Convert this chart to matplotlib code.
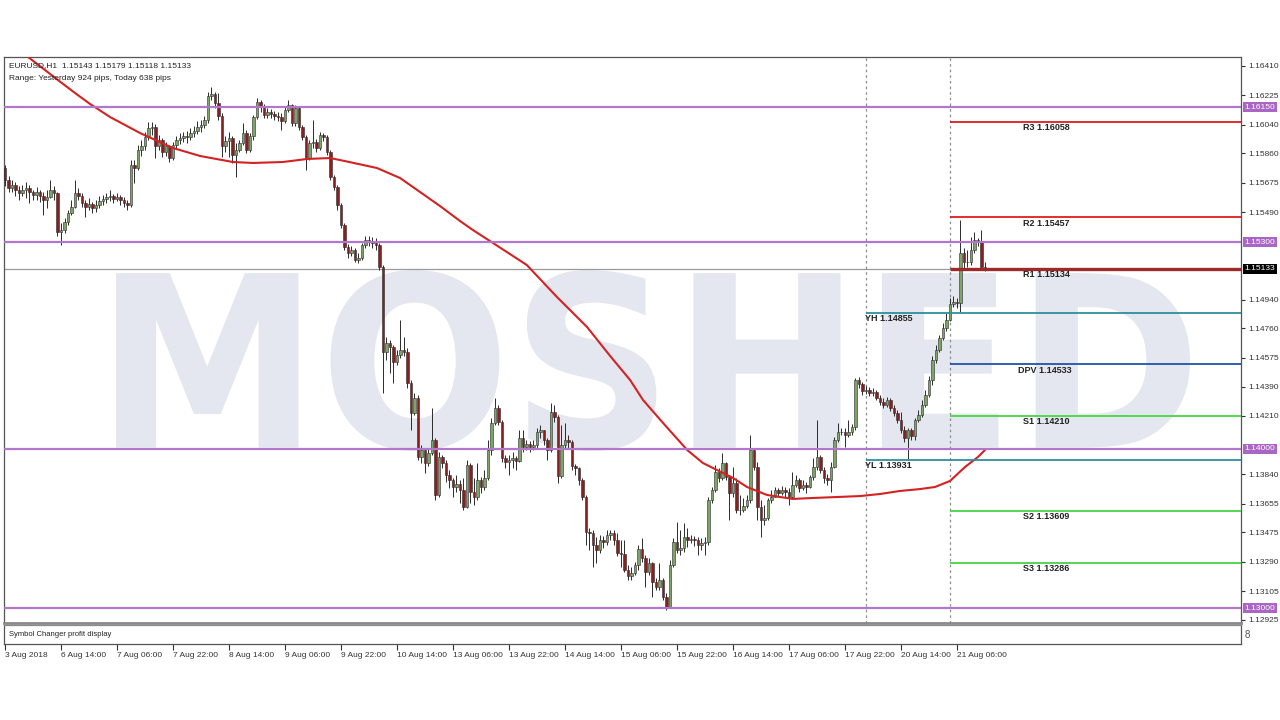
import numpy as np
import matplotlib
matplotlib.use("Agg")
import matplotlib.pyplot as plt
from matplotlib.textpath import TextPath
from matplotlib.patches import PathPatch
from matplotlib.font_manager import FontProperties
from matplotlib.transforms import Affine2D

plt.rcParams['font.family'] = ['Liberation Sans', 'DejaVu Sans']

# EURUSD H1, 3 Aug 22:00 .. 21 Aug 14:00 (one bar per hour)
first_open = 1.15768
closes = [
    1.15692, 1.15642, 1.15661, 1.15629, 1.15610, 1.15629, 1.15642, 1.15616, 1.15598, 1.15616,
    1.15591, 1.15566, 1.15585, 1.15629, 1.15610, 1.15365, 1.15378, 1.15427, 1.15484, 1.15522,
    1.15610, 1.15591, 1.15547, 1.15522, 1.15541, 1.15516, 1.15535, 1.15560, 1.15572, 1.15585,
    1.15591, 1.15572, 1.15585, 1.15566, 1.15547, 1.15535, 1.15787, 1.15768, 1.15881, 1.15906,
    1.15962, 1.16019, 1.16025, 1.15906, 1.15944, 1.15868, 1.15906, 1.15830, 1.15912, 1.15944,
    1.15956, 1.15969, 1.15962, 1.15987, 1.16000, 1.16025, 1.16038, 1.16069, 1.16220, 1.16233,
    1.16176, 1.16094, 1.15906, 1.15937, 1.15956, 1.15849, 1.15881, 1.15925, 1.15987, 1.15881,
    1.15969, 1.16088, 1.16182, 1.16151, 1.16101, 1.16120, 1.16107, 1.16094, 1.16088, 1.16063,
    1.16132, 1.16164, 1.16050, 1.16145, 1.16025, 1.15962, 1.15830, 1.15925, 1.15931, 1.15893,
    1.15975, 1.15962, 1.15868, 1.15711, 1.15648, 1.15535, 1.15409, 1.15271, 1.15233, 1.15252,
    1.15189, 1.15201, 1.15284, 1.15315, 1.15302, 1.15296, 1.15284, 1.15145, 1.14610, 1.14667,
    1.14642, 1.14547, 1.14591, 1.14623, 1.14610, 1.14415, 1.14226, 1.14320, 1.13950, 1.13994,
    1.13912, 1.13975, 1.14057, 1.13711, 1.13950, 1.13912, 1.13836, 1.13805, 1.13761, 1.13780,
    1.13742, 1.13635, 1.13899, 1.13729, 1.13698, 1.13805, 1.13761, 1.13817, 1.13994, 1.14164,
    1.14258, 1.14170, 1.13943, 1.13918, 1.13931, 1.13943, 1.13924, 1.14069, 1.14013, 1.14032,
    1.14013, 1.14025, 1.14107, 1.14120, 1.14057, 1.13994, 1.14233, 1.14201, 1.13830, 1.14025,
    1.14057, 1.14044, 1.13893, 1.13880, 1.13805, 1.13698, 1.13478, 1.13472, 1.13396, 1.13365,
    1.13428, 1.13415, 1.13459, 1.13472, 1.13428, 1.13346, 1.13340, 1.13239, 1.13201, 1.13220,
    1.13270, 1.13371, 1.13315, 1.13226, 1.13283, 1.13163, 1.13132, 1.13176, 1.13069, 1.13006,
    1.13270, 1.13415, 1.13365, 1.13378, 1.13447, 1.13428, 1.13434, 1.13428, 1.13396, 1.13409,
    1.13415, 1.13679, 1.13742, 1.13855, 1.13817, 1.13912, 1.13824, 1.13723, 1.13786, 1.13616,
    1.13616, 1.13641, 1.13679, 1.13994, 1.13887, 1.13635, 1.13553, 1.13566, 1.13679, 1.13698,
    1.13742, 1.13723, 1.13742, 1.13729, 1.13698, 1.13773, 1.13805, 1.13755, 1.13773, 1.13761,
    1.13824, 1.13887, 1.13950, 1.13868, 1.13817, 1.13805, 1.13887, 1.14057, 1.14107, 1.14107,
    1.14088, 1.14107, 1.14138, 1.14434, 1.14409, 1.14365, 1.14371, 1.14352, 1.14359, 1.14321,
    1.14296, 1.14277, 1.14308, 1.14258, 1.14226, 1.14182, 1.14120, 1.14069, 1.14120, 1.14082,
    1.14182, 1.14214, 1.14277, 1.14340, 1.14434, 1.14560, 1.14623, 1.14698, 1.14760, 1.14813,
    1.14912, 1.14924, 1.14918, 1.15233, 1.15176, 1.15176, 1.15252, 1.15315, 1.15302, 1.15143,
    1.15133,
]
highs = [
    1.15787, 1.15717, 1.15692, 1.15679, 1.15654, 1.15661, 1.15679, 1.15661, 1.15629, 1.15648,
    1.15629, 1.15616, 1.15629, 1.15692, 1.15654, 1.15616, 1.15421, 1.15453, 1.15503, 1.15566,
    1.15692, 1.15642, 1.15610, 1.15566, 1.15578, 1.15553, 1.15566, 1.15591, 1.15598, 1.15610,
    1.15629, 1.15604, 1.15610, 1.15598, 1.15585, 1.15566, 1.15818, 1.15818, 1.15912, 1.15944,
    1.15994, 1.16057, 1.16057, 1.16044, 1.15975, 1.15956, 1.15931, 1.15912, 1.15931, 1.15969,
    1.15987, 1.15994, 1.16000, 1.16019, 1.16031, 1.16063, 1.16069, 1.16094, 1.16245, 1.16277,
    1.16245, 1.16239, 1.16113, 1.15969, 1.15994, 1.15969, 1.15925, 1.15944, 1.16050, 1.16006,
    1.15987, 1.16101, 1.16208, 1.16195, 1.16170, 1.16145, 1.16139, 1.16126, 1.16120, 1.16113,
    1.16151, 1.16195, 1.16170, 1.16164, 1.16157, 1.16038, 1.15975, 1.15944, 1.16069, 1.15950,
    1.15994, 1.15987, 1.15975, 1.15881, 1.15724, 1.15661, 1.15547, 1.15421, 1.15290, 1.15277,
    1.15264, 1.15233, 1.15296, 1.15340, 1.15340, 1.15334, 1.15327, 1.15296, 1.15157, 1.14705,
    1.14686, 1.14654, 1.14623, 1.14811, 1.14705, 1.14635, 1.14434, 1.14352, 1.14340, 1.14025,
    1.14006, 1.14006, 1.14258, 1.14069, 1.13981, 1.13962, 1.13931, 1.13868, 1.13817, 1.13836,
    1.13805, 1.13817, 1.13931, 1.13912, 1.13817, 1.13912, 1.13824, 1.13868, 1.14057, 1.14195,
    1.14321, 1.14277, 1.14182, 1.13962, 1.13962, 1.13981, 1.13956, 1.14120, 1.14120, 1.14057,
    1.14050, 1.14057, 1.14132, 1.14151, 1.14120, 1.14069, 1.14289, 1.14277, 1.14214, 1.14151,
    1.14164, 1.14088, 1.14057, 1.13906, 1.13887, 1.13817, 1.13711, 1.13503, 1.13491, 1.13447,
    1.13459, 1.13453, 1.13491, 1.13491, 1.13491, 1.13472, 1.13428, 1.13428, 1.13270, 1.13258,
    1.13289, 1.13396, 1.13440, 1.13333, 1.13315, 1.13289, 1.13189, 1.13283, 1.13189, 1.13094,
    1.13302, 1.13440, 1.13541, 1.13491, 1.13535, 1.13503, 1.13459, 1.13453, 1.13447, 1.13440,
    1.13447, 1.13698, 1.13761, 1.13899, 1.13880, 1.13975, 1.13918, 1.13836, 1.13887, 1.13817,
    1.13711, 1.13692, 1.13711, 1.14088, 1.14006, 1.13918, 1.13679, 1.13648, 1.13692, 1.13742,
    1.13761, 1.13755, 1.13767, 1.13761, 1.13755, 1.13855, 1.13836, 1.13817, 1.13805, 1.13792,
    1.13836, 1.13943, 1.14182, 1.13962, 1.13887, 1.13843, 1.13918, 1.14075, 1.14164, 1.14132,
    1.14132, 1.14182, 1.14157, 1.14447, 1.14453, 1.14421, 1.14396, 1.14390, 1.14384, 1.14371,
    1.14340, 1.14321, 1.14327, 1.14321, 1.14277, 1.14245, 1.14233, 1.14145, 1.14132, 1.14132,
    1.14195, 1.14245, 1.14308, 1.14371, 1.14459, 1.14585, 1.14654, 1.14717, 1.14790, 1.14855,
    1.14950, 1.14962, 1.14950, 1.15440, 1.15264, 1.15252, 1.15334, 1.15365, 1.15327, 1.15378,
    1.15179,
]
lows = [
    1.15654, 1.15616, 1.15616, 1.15591, 1.15566, 1.15591, 1.15578, 1.15547, 1.15566, 1.15566,
    1.15553, 1.15472, 1.15516, 1.15578, 1.15566, 1.15340, 1.15284, 1.15359, 1.15409, 1.15472,
    1.15516, 1.15566, 1.15522, 1.15459, 1.15503, 1.15484, 1.15490, 1.15516, 1.15535, 1.15547,
    1.15560, 1.15547, 1.15560, 1.15535, 1.15522, 1.15503, 1.15522, 1.15673, 1.15755, 1.15843,
    1.15881, 1.15944, 1.15975, 1.15830, 1.15881, 1.15837, 1.15843, 1.15805, 1.15818, 1.15893,
    1.15918, 1.15931, 1.15925, 1.15944, 1.15962, 1.15981, 1.15994, 1.16019, 1.16050, 1.16195,
    1.16145, 1.16069, 1.15837, 1.15868, 1.15837, 1.15799, 1.15711, 1.15868, 1.15912, 1.15862,
    1.15868, 1.15944, 1.16076, 1.16120, 1.16082, 1.16082, 1.16082, 1.16069, 1.16063, 1.16006,
    1.16050, 1.16120, 1.16031, 1.16031, 1.16006, 1.15944, 1.15755, 1.15818, 1.15893, 1.15868,
    1.15881, 1.15937, 1.15849, 1.15692, 1.15629, 1.15503, 1.15390, 1.15252, 1.15201, 1.15214,
    1.15176, 1.15170, 1.15189, 1.15264, 1.15277, 1.15264, 1.15252, 1.15126, 1.14352, 1.14560,
    1.14478, 1.14415, 1.14528, 1.14572, 1.14585, 1.14384, 1.14120, 1.14214, 1.13931, 1.13912,
    1.13849, 1.13893, 1.13962, 1.13679, 1.13698, 1.13880, 1.13792, 1.13755, 1.13698, 1.13729,
    1.13660, 1.13616, 1.13629, 1.13660, 1.13648, 1.13679, 1.13723, 1.13742, 1.13805, 1.13962,
    1.14151, 1.14151, 1.13918, 1.13880, 1.13836, 1.13880, 1.13868, 1.13918, 1.13981, 1.13994,
    1.13981, 1.13994, 1.14006, 1.14069, 1.14025, 1.13931, 1.13981, 1.14170, 1.13786, 1.13817,
    1.14006, 1.14006, 1.13868, 1.13836, 1.13773, 1.13679, 1.13396, 1.13365, 1.13258, 1.13283,
    1.13346, 1.13377, 1.13396, 1.13428, 1.13396, 1.13327, 1.13258, 1.13226, 1.13176, 1.13176,
    1.13207, 1.13239, 1.13289, 1.13132, 1.13207, 1.13069, 1.13113, 1.13113, 1.13050, 1.12987,
    1.13000, 1.13258, 1.13346, 1.13333, 1.13352, 1.13384, 1.13409, 1.13390, 1.13333, 1.13365,
    1.13333, 1.13396, 1.13660, 1.13729, 1.13792, 1.13805, 1.13805, 1.13553, 1.13698, 1.13597,
    1.13585, 1.13604, 1.13629, 1.13660, 1.13868, 1.13553, 1.13447, 1.13522, 1.13553, 1.13660,
    1.13711, 1.13698, 1.13711, 1.13698, 1.13648, 1.13692, 1.13761, 1.13729, 1.13742, 1.13723,
    1.13755, 1.13805, 1.13868, 1.13849, 1.13786, 1.13773, 1.13729, 1.13880, 1.14044, 1.14088,
    1.14013, 1.14075, 1.14088, 1.14120, 1.14384, 1.14340, 1.14346, 1.14333, 1.14333, 1.14308,
    1.14277, 1.14258, 1.14264, 1.14239, 1.14208, 1.14164, 1.14101, 1.14044, 1.13931, 1.14057,
    1.14057, 1.14170, 1.14201, 1.14264, 1.14327, 1.14403, 1.14541, 1.14610, 1.14686, 1.14740,
    1.14802, 1.14893, 1.14887, 1.14862, 1.15126, 1.15145, 1.15157, 1.15233, 1.15277, 1.15138,
    1.15118,
]

# moving average, read at a set of bar positions
ma_bars = [0, 6.6, 11.4, 15.1, 20, 24.3, 30, 38.6, 48, 55.7, 65.1, 70.9, 79.4, 86.3, 92.9,
           97.1, 106.3, 112.9, 118.6, 124.3, 130, 133.7, 139.4, 149.1, 157.7, 166.3, 172.9,
           178.6, 182.3, 188, 194.9, 199.4, 203.4, 208, 212, 217.7, 225.1, 230.9, 237.7,
           244.3, 250, 255.7, 261.4, 265.7, 270, 274.3, 278, 280]
ma_vals = [1.16585, 1.16465, 1.16384, 1.16321, 1.16239, 1.16170, 1.16088, 1.15987, 1.15893,
           1.15843, 1.15805, 1.15799, 1.15805, 1.15824, 1.15830, 1.15811, 1.15767, 1.15704,
           1.15616, 1.15528, 1.15434, 1.15377, 1.15296, 1.15157, 1.14956, 1.14767, 1.14585,
           1.14434, 1.14308, 1.14164, 1.13994, 1.13912, 1.13868, 1.13818, 1.13761, 1.13711,
           1.13686, 1.13692, 1.13698, 1.13704, 1.13717, 1.13736, 1.13748, 1.13761, 1.13799,
           1.13887, 1.13950, 1.13994]

round_levels = [1.16150, 1.15300, 1.14000, 1.13000]
pivot_names = ['R3', 'R2', 'R1', 'DPV', 'S1', 'S2', 'S3']
pivot_levels = [1.16058, 1.15457, 1.15134, 1.14533, 1.14210, 1.13609, 1.13286]
yest_names = ['YH', 'YL']
yest_levels = [1.14855, 1.13931]
bid = 1.15133
day_start = [246, 270]

price_ticks = [1.16410, 1.16225, 1.16040, 1.15860, 1.15675, 1.15490, 1.14940, 1.14760,
               1.14575, 1.14390, 1.14210, 1.13840, 1.13655, 1.13475, 1.13290,
               1.13105, 1.12925]
time_labels = ['3 Aug 2018', '6 Aug 14:00', '7 Aug 06:00', '7 Aug 22:00', '8 Aug 14:00',
               '9 Aug 06:00', '9 Aug 22:00', '10 Aug 14:00', '13 Aug 06:00', '13 Aug 22:00',
               '14 Aug 14:00', '15 Aug 06:00', '15 Aug 22:00', '16 Aug 14:00', '17 Aug 06:00',
               '17 Aug 22:00', '20 Aug 14:00', '21 Aug 06:00']
BARS_PER_LABEL = 16

# colours
PURPLE = '#b277cc'
PURPLE_BOX = '#aa66c4'
BULL = '#7ea568'
BEAR = '#8a1f1f'
WICK = '#2b2b2b'
pivot_colors = ['#e01c1c', '#e01c1c', '#9c2a2a', '#2352a6', '#45d645', '#45d645', '#45d645']
pivot_lw = [1.3, 1.3, 2.4, 1.3, 1.3, 1.3, 1.3]
YCOLOR = '#2f8f9c'

W, H = 1280, 720


def frame(x0, y0, x1, y1):
    return [x0 / W, 1 - y1 / H, (x1 - x0) / W, (y1 - y0) / H]


fig = plt.figure(figsize=(12.8, 7.2), dpi=100)
ax = fig.add_axes(frame(4, 57, 1241, 623))
ax2 = fig.add_axes(frame(4, 625, 1241, 644), sharex=ax)

# bar i sits at pixel 5 + 3.5 * i
x_left = (4 - 5) / 3.5
x_right = (1241 - 5) / 3.5
ax.set_xlim(x_left, x_right)
ax.set_ylim(1.14 - 174 / 15900, 1.14 + 392 / 15900)

# watermark
tp = TextPath((0, 0), 'MOSHED', size=100,
              prop=FontProperties(family='DejaVu Sans', weight='bold'))
ext = tp.get_extents()
fx0, fx1 = 116 / W, 1190 / W
fy0, fy1 = 1 - 451 / H, 1 - 270 / H
tr = (Affine2D().translate(-ext.x0, -ext.y0)
      .scale((fx1 - fx0) / ext.width, (fy1 - fy0) / ext.height)
      .translate(fx0, fy0) + fig.transFigure)
ax.add_artist(PathPatch(tp, transform=tr, facecolor='#e4e7ef', edgecolor='none',
                        zorder=0.5))

# candles
c = np.array(closes)
o = np.array([first_open] + closes[:-1])
hi = np.maximum(np.array(highs), np.maximum(o, c))
lo = np.minimum(np.array(lows), np.minimum(o, c))
x = np.arange(len(c))
up = c >= o
ax.vlines(x, lo, hi, color=WICK, lw=0.7, zorder=3)
ax.bar(x, np.abs(c - o), bottom=np.minimum(o, c), width=0.72,
       color=np.where(up, BULL, BEAR), edgecolor=WICK, linewidth=0.4, zorder=4)

# moving average
ax.plot(ma_bars, ma_vals, color='#d42222', lw=1.5, zorder=5)

# round-number levels and bid line
for lv in round_levels:
    ax.axhline(lv, color=PURPLE, lw=1.6, zorder=6)
ax.axhline(bid, color='#9a9a9a', lw=0.9, zorder=2)

# day separators
for d in day_start:
    ax.axvline(d, color='#8c8c8c', lw=0.9, ls=(0, (2, 2.5)), zorder=2)

# pivots
for name, lv, col, lw in zip(pivot_names, pivot_levels, pivot_colors, pivot_lw):
    ax.hlines(lv, day_start[1], x_right, color=col, lw=lw, zorder=6)
    lx = 289.5 if name == 'DPV' else 291
    ax.text(lx, lv - 0.00008, f'{name} {lv:.5f}', fontsize=6.5, fontweight='bold',
            color='#222222', va='top', ha='left', zorder=7)
for name, lv in zip(yest_names, yest_levels):
    ax.hlines(lv, day_start[0], x_right, color=YCOLOR, lw=1.3, zorder=6)
    ax.text(day_start[0] - 0.3, lv - 0.00008, f'{name} {lv:.5f}', fontsize=6.5,
            fontweight='bold', color='#222222', va='top', ha='left', zorder=7)

# price axis
ax.yaxis.tick_right()
ax.set_yticks(price_ticks)
ax.set_yticklabels([f'{p:.5f}' for p in price_ticks])
ax.tick_params(axis='y', direction='out', length=3, width=0.8, pad=2,
               labelsize=6, colors='#333333')
ax.tick_params(axis='x', bottom=False, labelbottom=False)

for lv in round_levels:
    ax.annotate(f'{lv:.5f}', xy=(1, lv), xycoords=('axes fraction', 'data'),
                xytext=(2.5, 0), textcoords='offset points', ha='left', va='center',
                fontsize=6, color='white', zorder=10, annotation_clip=False,
                bbox=dict(boxstyle='square,pad=0.2', fc=PURPLE_BOX, ec='none'))
ax.annotate(f'{bid:.5f}', xy=(1, bid), xycoords=('axes fraction', 'data'),
            xytext=(2.5, 0), textcoords='offset points', ha='left', va='center',
            fontsize=6, color='white', zorder=10, annotation_clip=False,
            bbox=dict(boxstyle='square,pad=0.2', fc='black', ec='none'))

for s in ax.spines.values():
    s.set_color('#555555')
    s.set_linewidth(0.9)
ax.spines['bottom'].set_color('#8a8a8a')
ax.spines['bottom'].set_linewidth(2.0)

# header text
fig.text(9 / W, 1 - 66 / H, 'EURUSD,H1  1.15143 1.15179 1.15118 1.15133',
         fontsize=6, color='#222222', va='center', ha='left')
fig.text(9 / W, 1 - 78 / H, 'Range: Yesterday 924 pips, Today 638 pips',
         fontsize=6, color='#222222', va='center', ha='left')

# indicator sub-window
ax2.set_yticks([])
ax2.text(0.004, 0.5, 'Symbol Changer profit display', transform=ax2.transAxes,
         fontsize=5.5, color='#222222', va='center', ha='left')
ax2.text(1.003, 0.5, '8', transform=ax2.transAxes, fontsize=7, color='#555555',
         va='center', ha='left')
for s in ax2.spines.values():
    s.set_color('#555555')
    s.set_linewidth(0.9)
ax2.spines['top'].set_color('#8a8a8a')

tick_pos = [BARS_PER_LABEL * k for k in range(len(time_labels))]
ax2.set_xticks(tick_pos)
ax2.set_xticklabels(time_labels)
ax2.tick_params(axis='x', direction='out', length=4, width=0.8, pad=1.5,
                labelsize=6, colors='#333333')
for lab in ax2.get_xticklabels():
    lab.set_horizontalalignment('left')

fig.savefig('out.png', dpi=100, facecolor='white')
